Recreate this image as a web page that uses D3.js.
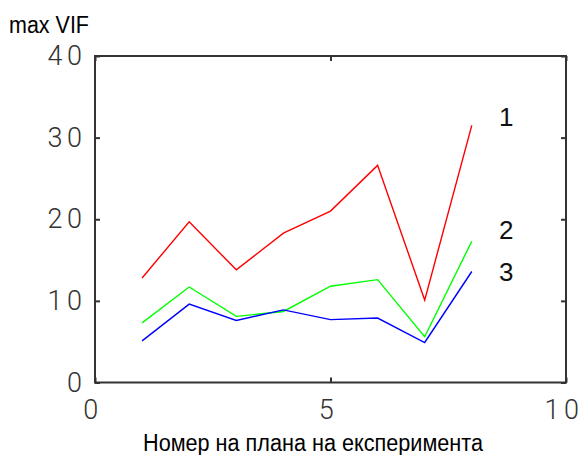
<!DOCTYPE html>
<html>
<head>
<meta charset="utf-8">
<script src="https://cdn.jsdelivr.net/npm/d3@7"></script>
<style>
  html, body { margin: 0; padding: 0; background: #fff; }
  svg { display: block; }
</style>
</head>
<body>
<svg id="chart" width="584" height="455"></svg>
<script>
const planNumbers = [1, 2, 3, 4, 5, 6, 7, 8];
const series1 = [12.8, 19.7, 13.8, 18.3, 21.0, 26.6, 10.1, 31.5];
const series2 = [7.3, 11.7, 8.1, 8.7, 11.8, 12.6, 5.6, 17.3];
const series3 = [5.1, 9.6, 7.6, 8.9, 7.7, 7.9, 4.9, 13.6];
const seriesNames = ["1", "2", "3"];
const seriesColors = ["#ff0000", "#00ff00", "#0000ff"];
const labelY = [32.5, 18.7, 13.5];
const xTicks = [0, 5, 10];
const yTicks = [0, 10, 20, 30, 40];
const yTitle = "max VIF";
const xTitle = "Номер на плана на експеримента";

const svg = d3.select("#chart");
const L = 95, T = 56, R = 566, B = 382.5;
const x = d3.scaleLinear().domain([0, 10]).range([L, R]);
const y = d3.scaleLinear().domain([0, 40]).range([B, T]);

const tickFont = "Roboto, 'Open Sans', sans-serif";
const tickColor = "#333";
const tickSize = 27;
const tickSpacing = 4.5;

// frame
svg.append("rect")
  .attr("x", L).attr("y", T).attr("width", R - L).attr("height", B - T)
  .attr("fill", "none").attr("stroke", "#333").attr("stroke-width", 2);

// axes with inward ticks
const axL = svg.append("g").attr("transform", `translate(${L},0)`)
  .call(d3.axisRight(y).tickValues(yTicks).tickSize(5).tickFormat(""));
const axR = svg.append("g").attr("transform", `translate(${R},0)`)
  .call(d3.axisLeft(y).tickValues(yTicks).tickSize(5).tickFormat(""));
const axB = svg.append("g").attr("transform", `translate(0,${B})`)
  .call(d3.axisTop(x).tickValues(xTicks).tickSize(5).tickFormat(""));
const axT = svg.append("g").attr("transform", `translate(0,${T})`)
  .call(d3.axisBottom(x).tickValues(xTicks).tickSize(5).tickFormat(""));
[axL, axR, axB, axT].forEach(g => {
  g.select(".domain").remove();
  g.selectAll("line").attr("stroke", "#333").attr("stroke-width", 2);
});

// y tick labels
svg.append("g").selectAll("text").data(yTicks).join("text")
  .attr("x", 82 + tickSpacing).attr("y", d => y(d))
  .attr("text-anchor", "end").attr("dominant-baseline", "central")
  .attr("font-family", tickFont).attr("font-size", tickSize)
  .attr("font-weight", 300)
  .attr("letter-spacing", tickSpacing)
  .attr("fill", tickColor)
  .text(d => d);

// x tick labels
svg.append("g").selectAll("text").data(xTicks).join("text")
  .attr("x", d => x(d) - 2).attr("y", 410)
  .attr("text-anchor", "middle").attr("dominant-baseline", "central")
  .attr("font-family", tickFont).attr("font-size", tickSize)
  .attr("font-weight", 300)
  .attr("letter-spacing", tickSpacing)
  .attr("fill", tickColor)
  .text(d => d);

// titles
svg.append("text").attr("x", 9).attr("y", 32.7)
  .attr("font-family", "'Liberation Sans', Arial, sans-serif").attr("font-size", 23.5)
  .attr("textLength", 80).attr("lengthAdjust", "spacingAndGlyphs")
  .attr("fill", "#000").text(yTitle);
svg.append("text").attr("x", 143).attr("y", 451)
  .attr("font-family", "'Liberation Sans', Arial, sans-serif").attr("font-size", 23)
  .attr("textLength", 340).attr("lengthAdjust", "spacingAndGlyphs")
  .attr("fill", "#000").text(xTitle);

// lines
const allSeries = [series1, series2, series3];
const line = d3.line().x((d, i) => x(planNumbers[i])).y(d => y(d));
svg.append("g").selectAll("path").data(allSeries).join("path")
  .attr("d", d => line(d))
  .attr("fill", "none")
  .attr("stroke", (d, i) => seriesColors[i])
  .attr("stroke-width", 1.4);

// series labels
svg.append("g").selectAll("text").data(seriesNames).join("text")
  .attr("x", x(8.58)).attr("y", (d, i) => y(labelY[i]))
  .attr("dominant-baseline", "central")
  .attr("font-family", "'Liberation Sans', Arial, sans-serif").attr("font-size", 26)
  .attr("fill", "#111")
  .text(d => d);
</script>
</body>
</html>
